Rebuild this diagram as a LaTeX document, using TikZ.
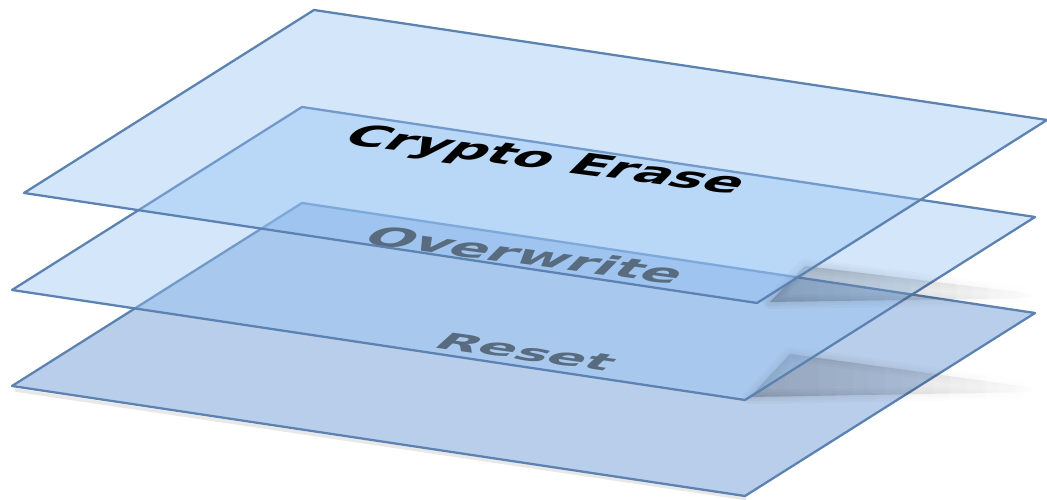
\documentclass[tikz,border=0pt]{standalone}
\usepackage{fontspec}
\usetikzlibrary{fadings}
\newfontfamily\layerfont{DejaVu Sans}
\definecolor{layeredge}{HTML}{5C82B2}
\definecolor{layerblue}{HTML}{91C0F2}
\definecolor{layerbase}{HTML}{B9CEEA}
\definecolor{labelgray}{HTML}{333333}
\tikzset{
  layer/.style={draw=layeredge, line width=1.3pt, line join=round},
  layer glass/.style={layer, fill=layerblue, fill opacity=0.4},
  layer label/.style={font={\layerfont\bfseries\fontsize{31}{36}\selectfont},
    inner sep=0pt, anchor=base west, transform shape},
  layer shadow/.style={fill=black, fill opacity=0.07, draw=black, draw opacity=0.03,
    line join=round, path fading=east}
}

\begin{document}
\begin{tikzpicture}
    \useasboundingbox (0,0) rectangle (20.94,10);

    % Bottom layer
    \draw[black!30, line width=2pt, opacity=0.3] (0.30,2.20) -- (14.92,0.03);
    \draw[layer, fill=layerbase] (6.04,5.94) -- ++(14.66,-2.20) -- ++(-5.80,-3.66) -- ++(-14.66,2.20) -- cycle;
    \node[layer label, text=labelgray, cm={1.0,-0.14,0.42,0.38,(0,0)}] (reset) at (8.62,3.06) {Reset};

    % Middle layer with its shadow
    \foreach \w in {2,5,8}
        \path[layer shadow, line width=\w pt] (15.00,2.06) -- (15.80,2.92) -- (20.70,2.24) -- (20.70,2.16) -- cycle;
    \draw[layer glass] (6.04,7.86) -- ++(14.66,-2.20) -- ++(-5.80,-3.66) -- ++(-14.66,2.20) -- cycle;
    \node[layer label, text=labelgray, cm={1.03,-0.135,0.45,0.45,(0,0)}] (overwrite) at (7.20,5.14) {Overwrite};

    % Top layer with its shadow
    \foreach \w in {2,5,8}
        \path[layer shadow, line width=\w pt] (15.40,3.96) -- (16.10,4.68) -- (20.70,4.12) -- (20.70,4.04) -- cycle;
    \draw[layer glass] (6.28,9.80) -- ++(14.66,-2.20) -- ++(-5.80,-3.66) -- ++(-14.66,2.20) -- cycle;
    \node[layer label, text=black, cm={1.0,-0.13,0.50,0.50,(0,0)}] (crypto) at (6.80,7.14) {Crypto Erase};
\end{tikzpicture}
\end{document}
